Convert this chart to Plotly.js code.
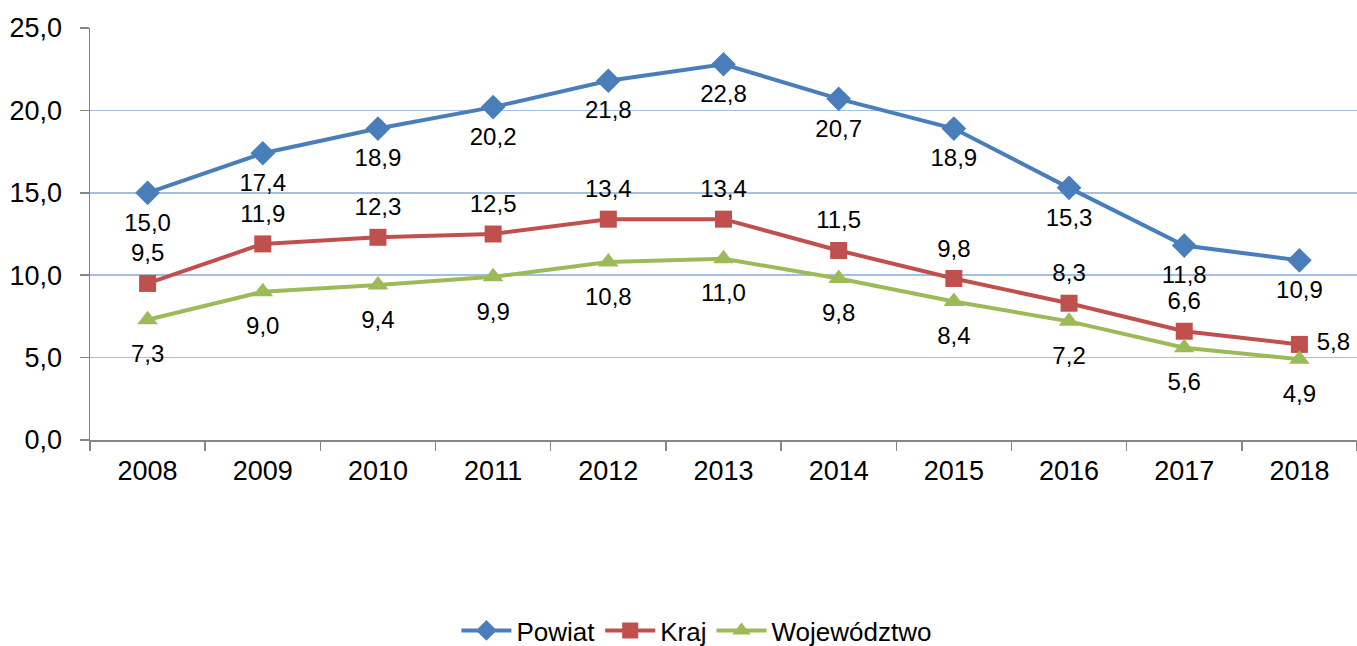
<!DOCTYPE html>
<html>
<head>
<meta charset="utf-8">
<script src="https://cdn.plot.ly/plotly-3.0.1.min.js"></script>
<style>html,body{margin:0;padding:0;background:#fff;}#chart{width:1357px;height:646px;}</style>
</head>
<body>
<div id="chart"></div>
<script>
const years = ['2008','2009','2010','2011','2012','2013','2014','2015','2016','2017','2018'];
const powiat = [15.0, 17.4, 18.9, 20.2, 21.8, 22.8, 20.7, 18.9, 15.3, 11.8, 10.9];
const kraj = [9.5, 11.9, 12.3, 12.5, 13.4, 13.4, 11.5, 9.8, 8.3, 6.6, 5.8];
const wojewodztwo = [7.3, 9.0, 9.4, 9.9, 10.8, 11.0, 9.8, 8.4, 7.2, 5.6, 4.9];
const names = ['Powiat', 'Kraj', 'Województwo'];
const colors = ['#4A7EBB', '#C0504D', '#9BBB59'];

const FONT = 'Liberation Sans, Arial, sans-serif';
const labelFont = {family: FONT, size: 24, color: '#000'};

const last = years.length - 1;
const krajPos = years.map((y, i) => i === last ? 'middle right' : 'top center');
const krajSpacer = years.map((y, i) => i === last ? 26 : 24);

function series(vals, i, symbol, size) {
  return {x: years, y: vals, name: names[i], type: 'scatter', mode: 'lines+markers',
          line: {color: colors[i], width: 4}, marker: {symbol: symbol, size: size, color: colors[i]},
          cliponaxis: false};
}
function labels(vals, pos, spacer) {
  return {x: years, y: vals, type: 'scatter', mode: 'markers+text', showlegend: false, hoverinfo: 'skip',
          marker: {size: spacer, opacity: 0, color: '#fff'},
          texttemplate: '%{y:.1f}', textposition: pos, textfont: labelFont, cliponaxis: false};
}

const traces = [
  series(powiat, 0, 'diamond', 19),
  series(kraj, 1, 'square', 17),
  series(wojewodztwo, 2, 'triangle-up', 18),
  labels(powiat, 'bottom center', 30),
  labels(kraj, krajPos, krajSpacer),
  labels(wojewodztwo, 'bottom center', 38)
];

const layout = {
  width: 1357, height: 646,
  margin: {l: 90, r: 0, t: 28, b: 206},
  paper_bgcolor: '#fff', plot_bgcolor: '#fff',
  separators: ', ',
  font: {family: FONT, size: 27, color: '#000'},
  showlegend: true,
  legend: {orientation: 'h', x: 0.479, xanchor: 'center', xref: 'paper',
           y: 0.024, yref: 'container', yanchor: 'middle', itemwidth: 50,
           font: {size: 26, color: '#000'}, traceorder: 'normal', itemclick: false},
  xaxis: {type: 'category', showgrid: false, showline: true, linecolor: '#868686', linewidth: 1.5,
          ticks: 'outside', tickson: 'boundaries', ticklen: 9, tickcolor: '#868686', tickwidth: 1.5,
          tickfont: {size: 27}, ticklabelstandoff: 6, range: [-0.5, 10.5], fixedrange: true},
  yaxis: {range: [0, 25], dtick: 5, tick0: 0, tickformat: '.1f', showgrid: true, gridcolor: '#A6BEE2', gridwidth: 1.5,
          showline: true, linecolor: '#868686', linewidth: 1.5, ticks: 'outside', ticklen: 9,
          tickcolor: '#868686', tickwidth: 1.5, zeroline: false, tickfont: {size: 27},
          ticklabelstandoff: 12, fixedrange: true}
};

Plotly.newPlot('chart', traces, layout, {displayModeBar: false, staticPlot: true});
</script>
</body>
</html>
